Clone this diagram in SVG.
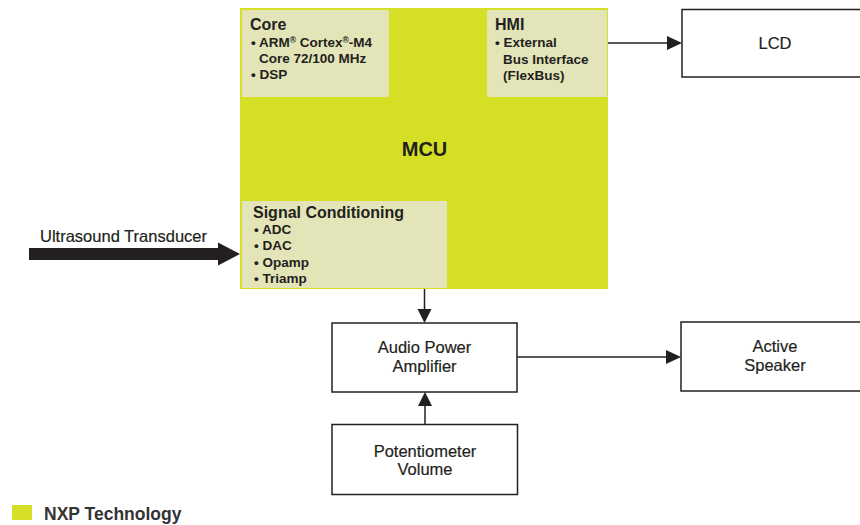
<svg xmlns="http://www.w3.org/2000/svg" width="860" height="525" viewBox="0 0 860 525">
<style>
  .lbl{font-family:"Liberation Sans",Arial,sans-serif;font-size:16.5px;fill:#231f20;stroke:#231f20;stroke-width:0.2;}
  .c{text-anchor:middle;}
  .ttl{font-family:"Liberation Sans",Arial,sans-serif;font-size:16px;font-weight:bold;fill:#231f20;}
  .itm{font-family:"Liberation Sans",Arial,sans-serif;font-size:13.5px;font-weight:bold;fill:#231f20;}
  .box{fill:#ffffff;stroke:#231f20;stroke-width:1.5;}
  .sub{fill:#e3e5b8;}
  .ln{stroke:#231f20;stroke-width:1.5;fill:none;}
  .ah{fill:#231f20;}
</style>
<rect width="860" height="525" fill="#ffffff"/>

<g id="mcu">
  <rect x="240" y="8" width="368" height="281" fill="#d4df26"/>
  <text class="ttl c" x="424.5" y="156" style="font-size:20px">MCU</text>
</g>
<g id="core">
  <rect class="sub" x="242" y="10" width="147" height="87"/>
  <text class="ttl" x="250" y="30">Core</text>
  <text class="itm" x="251" y="47">• ARM<tspan font-size="8.5" dy="-4">®</tspan><tspan dy="4"> Cortex</tspan><tspan font-size="8.5" dy="-4">®</tspan><tspan dy="4">-M4</tspan></text>
  <text class="itm" x="259" y="63">Core 72/100 MHz</text>
  <text class="itm" x="251" y="79">• DSP</text>
</g>
<g id="hmi">
  <rect class="sub" x="487" y="10" width="120" height="87"/>
  <text class="ttl" x="495" y="30">HMI</text>
  <text class="itm" x="495" y="47">• External</text>
  <text class="itm" x="503" y="64">Bus Interface</text>
  <text class="itm" x="503" y="80">(FlexBus)</text>
</g>
<g id="signal">
  <rect class="sub" x="242" y="201" width="205" height="87"/>
  <text class="ttl" x="253" y="218">Signal Conditioning</text>
  <text class="itm" x="254" y="234">• ADC</text>
  <text class="itm" x="254" y="250">• DAC</text>
  <text class="itm" x="254" y="267">• Opamp</text>
  <text class="itm" x="254" y="283">• Triamp</text>
</g>
<g id="lcd">
  <rect class="box" x="682" y="9.5" width="200" height="67.5"/>
  <text class="lbl c" x="775" y="48.5">LCD</text>
</g>
<g id="amp">
  <rect class="box" x="332" y="323" width="185" height="69"/>
  <text class="lbl c" x="424.5" y="353">Audio Power</text>
  <text class="lbl c" x="424.5" y="372">Amplifier</text>
</g>
<g id="speaker">
  <rect class="box" x="681" y="322" width="200" height="69"/>
  <text class="lbl c" x="775" y="352">Active</text>
  <text class="lbl c" x="775" y="371">Speaker</text>
</g>
<g id="pot">
  <rect class="box" x="332" y="424.5" width="185.5" height="70"/>
  <text class="lbl c" x="425" y="457">Potentiometer</text>
  <text class="lbl c" x="425" y="475">Volume</text>
</g>
<g id="transducer">
  <text class="lbl" x="40" y="242" textLength="167" lengthAdjust="spacingAndGlyphs">Ultrasound Transducer</text>
</g>
<g id="legend">
  <rect x="12" y="505" width="20" height="15" fill="#d4df26"/>
  <text class="ttl" x="44" y="520" style="fill:#333333;font-size:17.5px">NXP Technology</text>
</g>

<g id="connectors">
  <polygon points="29,248 218,248 218,242.5 240,254 218,265.5 218,260 29,260" fill="#231f20"/>
  <line class="ln" x1="608" y1="43" x2="668" y2="43"/>
  <polygon class="ah" points="667,36 682,43 667,50"/>
  <line class="ln" x1="424.5" y1="289" x2="424.5" y2="311"/>
  <polygon class="ah" points="417.5,309 431.5,309 424.5,323"/>
  <line class="ln" x1="425" y1="424.5" x2="425" y2="404"/>
  <polygon class="ah" points="418,406 432,406 425,392"/>
  <line class="ln" x1="517" y1="357" x2="667" y2="357"/>
  <polygon class="ah" points="666,350 681,357 666,364"/>
</g>
</svg>
